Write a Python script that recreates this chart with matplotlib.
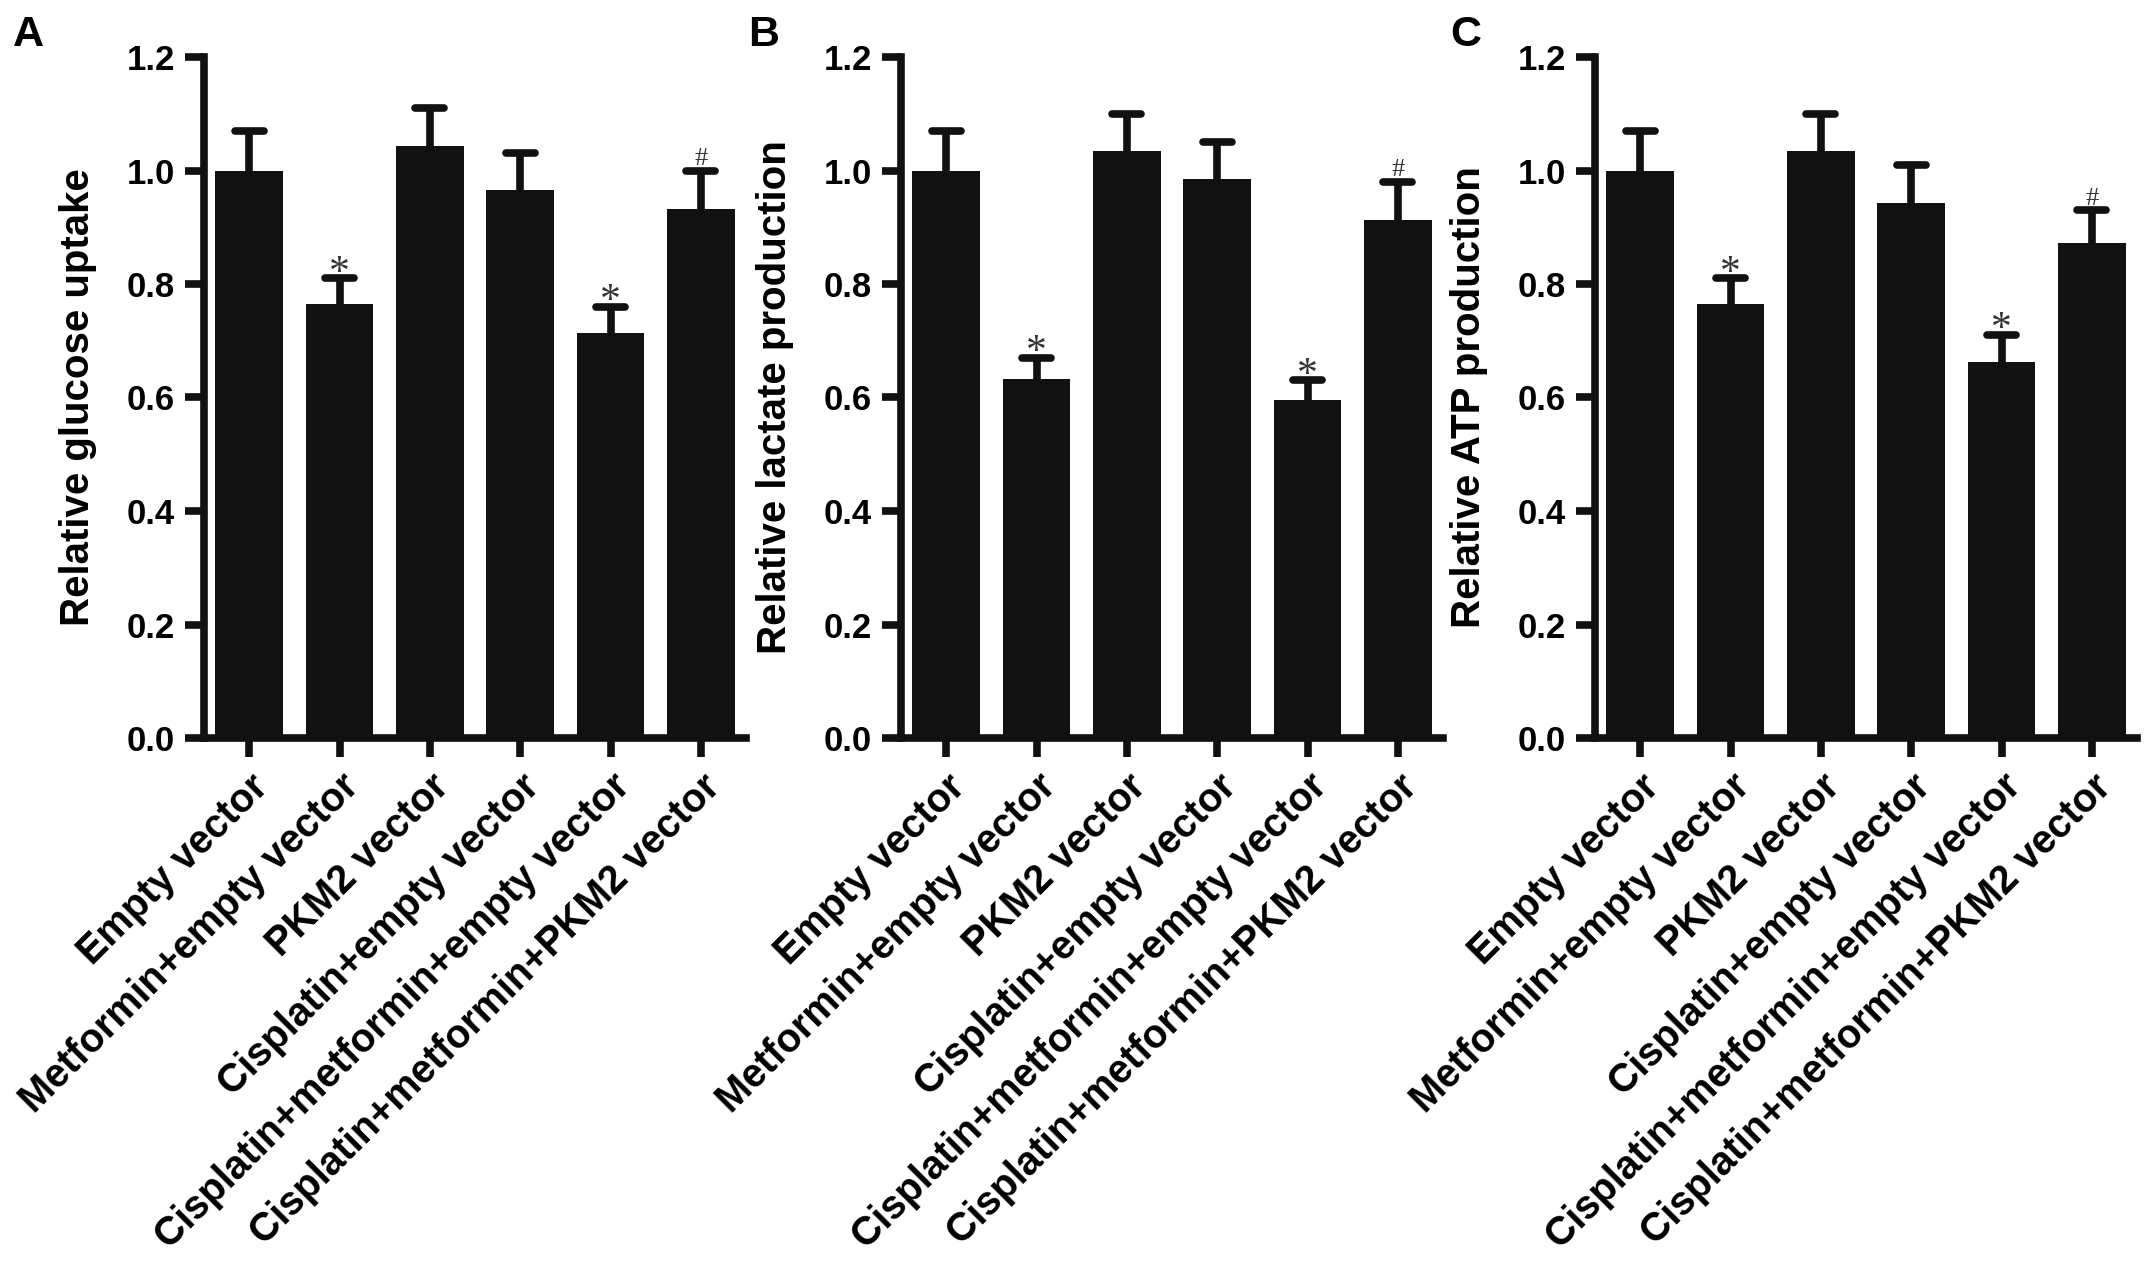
import numpy as np
import matplotlib
matplotlib.use("Agg")
import matplotlib.pyplot as plt
import matplotlib.transforms as mtransforms

plt.rcParams["font.family"] = ["Liberation Sans", "DejaVu Sans"]

groups = [
    "Empty vector",
    "Metformin+empty vector",
    "PKM2 vector",
    "Cisplatin+empty vector",
    "Cisplatin+metformin+empty vector",
    "Cisplatin+metformin+PKM2 vector",
]

glucose = [1.00, 0.765, 1.043, 0.965, 0.713, 0.933]
glucose_top = [1.07, 0.81, 1.11, 1.03, 0.76, 1.00]
lactate = [1.00, 0.633, 1.035, 0.985, 0.595, 0.913]
lactate_top = [1.07, 0.67, 1.10, 1.05, 0.63, 0.98]
atp = [1.00, 0.765, 1.035, 0.943, 0.663, 0.873]
atp_top = [1.07, 0.81, 1.10, 1.01, 0.711, 0.93]

marks = ["", "*", "", "", "*", "#"]

panels = [
    ("A", glucose, glucose_top, "Relative glucose uptake"),
    ("B", lactate, lactate_top, "Relative lactate production"),
    ("C", atp, atp_top, "Relative ATP production"),
]

W, H = 2150, 1266
fig = plt.figure(figsize=(W / 100, H / 100), dpi=100)

lefts = [204, 901, 1595]
letter_x = [13, 748, 1450]
ax_w, ax_top, ax_bot = 542, 57, 738
lw = 5.5
col = "#111111"

for i, (letter, vals, tops, ylab) in enumerate(panels):
    ax = fig.add_axes([lefts[i] / W, (H - ax_bot) / H, ax_w / W, (ax_bot - ax_top) / H])
    x = np.arange(len(groups))
    ax.bar(x, vals, width=0.75, color=col, zorder=2)
    ax.vlines(x, vals, tops, color=col, linewidth=lw, zorder=1)
    ax.hlines(tops, x - 0.16, x + 0.16, color=col, linewidth=lw, capstyle="round", zorder=3)

    for xi, t, m in zip(x, tops, marks):
        if m == "*":
            ax.annotate(m, (xi, t), xytext=(0, -4), textcoords="offset points",
                        ha="center", va="baseline", fontsize=30, color="#333333",
                        family="Liberation Serif")
        elif m == "#":
            ax.annotate(m, (xi, t), xytext=(0, 4), textcoords="offset points",
                        ha="center", va="baseline", fontsize=19, color="#333333",
                        family="Liberation Serif")

    ax.set_xlim(-0.5, 5.5)
    ax.set_ylim(0, 1.2)
    ax.set_yticks(np.arange(0, 1.21, 0.2))
    ax.set_yticklabels([f"{v:.1f}" for v in np.arange(0, 1.21, 0.2)])
    ax.set_xticks(x)
    ax.set_xticklabels(groups, rotation=45, ha="right", va="top", rotation_mode="anchor")
    offset = mtransforms.ScaledTranslation(7 / 100, 0, fig.dpi_scale_trans)
    for lab in ax.get_xticklabels():
        lab.set_transform(lab.get_transform() + offset)

    for s in ["top", "right"]:
        ax.spines[s].set_visible(False)
    for s in ["left", "bottom"]:
        ax.spines[s].set_linewidth(lw)
        ax.spines[s].set_color(col)
    ax.tick_params(axis="both", direction="out", length=14, width=lw, color=col,
                   labelsize=25, pad=7)
    ax.tick_params(axis="x", labelsize=28.5)
    for lab in ax.get_xticklabels() + ax.get_yticklabels():
        lab.set_fontweight("bold")

    ax.set_ylabel(ylab, fontsize=29, fontweight="bold")
    ax.yaxis.set_label_coords(-107 / ax_w, 0.5)

    fig.text(letter_x[i] / W, 1 - 15 / H, letter, fontsize=31, fontweight="bold",
             ha="left", va="top")

fig.savefig("out.png", dpi=100, facecolor="white")
